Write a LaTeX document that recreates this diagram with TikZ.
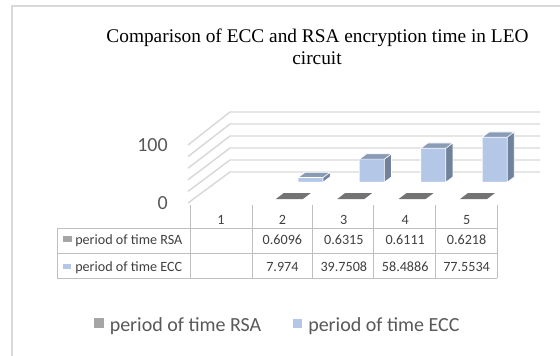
\documentclass[tikz,border=0pt]{standalone}
\usepackage{fontspec}
\setmainfont{Liberation Serif}
\newfontfamily\calib{Carlito}
\definecolor{framec}{HTML}{D9D9D9}
\definecolor{gridc}{HTML}{D9D9D9}
\definecolor{tablec}{HTML}{BFBFBF}
\definecolor{axistxt}{HTML}{595959}
\definecolor{tabtxt}{HTML}{404040}
\definecolor{eccfront}{HTML}{B4C7E7}
\definecolor{ecctop}{HTML}{8A9BB6}
\definecolor{eccside}{HTML}{71829C}
\definecolor{rsatop}{HTML}{737373}
\definecolor{rsaleg}{HTML}{A5A5A5}
\tikzset{
  gridline/.style={draw=gridc, line width=1.1pt},
  tabline/.style={draw=tablec, line width=0.75pt},
  axislabel/.style={font=\calib\fontsize{15}{18}\selectfont, text=axistxt, anchor=east, inner sep=0pt},
  tabtext/.style={font=\calib\fontsize{10.6}{12}\selectfont, text=tabtxt, inner sep=0pt},
  legtext/.style={font=\calib\fontsize{15}{18}\selectfont, text=axistxt, anchor=base west, inner sep=0pt},
  titletext/.style={font=\fontsize{14.5}{17}\selectfont, text=black, anchor=base, inner sep=0pt},
}
\begin{document}
\begin{tikzpicture}[x=0.75pt,y=-0.75pt]
\useasboundingbox (0,0) rectangle (560,356);
\fill[white] (0,0) rectangle (560,356);
% outer frame
\draw[framec, line width=1pt] (12,356) -- (12,6) -- (560,6);
% title
\node[titletext] (t1) at (317.5,43) {Comparison of ECC and RSA encryption time in LEO};
\node[titletext] (t2) at (317,65) {circuit};
% gridlines (side wall + back wall)
\foreach \k in {0,...,5}{
  \draw[gridline] (188,{203-11.6*\k}) -- (230,{172-12*\k}) -- (540,{172-12*\k});
}
% axis labels
\node[axislabel] (l100) at (168,145) {100};
\node[axislabel] (l0) at (168,203) {0};
% ECC bars
\foreach \i/\v in {2/7.974,3/39.7508,4/58.4886,5/77.5534}{
  \pgfmathsetmacro{\xc}{221+61.4*(\i-1)}
  \pgfmathsetmacro{\L}{\xc+28.1-12.5}
  \pgfmathsetmacro{\R}{\xc+28.1+12.5}
  \pgfmathsetmacro{\B}{182.2}
  \pgfmathsetmacro{\T}{182.2-0.58*\v}
  \fill[eccfront] (\L,\T) rectangle (\R,\B);
  \fill[ecctop] (\L,\T) -- (\R,\T) -- (\R+7.1,\T-5.3) -- (\L+7.1,\T-5.3) -- cycle;
  \fill[eccside] (\R,\T) -- (\R+7.1,\T-5.3) -- (\R+7.1,\B-5.3) -- (\R,\B) -- cycle;
  \draw[white, line width=0.5pt, line join=round] (\L,\B) -- (\L,\T) -- (\R,\T) -- (\R,\B) -- cycle
     (\L,\T) -- (\L+7.1,\T-5.3) -- (\R+7.1,\T-5.3) -- (\R,\T)
     (\R+7.1,\T-5.3) -- (\R+7.1,\B-5.3) -- (\R,\B);
}
% RSA bars (flat)
\foreach \i in {2,3,4,5}{
  \pgfmathsetmacro{\xc}{221+61.4*(\i-1)+1.5}
  \fill[rsatop] (\xc-13.5+5.5,199) -- (\xc+13.5+5.5,199) -- (\xc+13.5+13.4,193) -- (\xc-13.5+13.4,193) -- cycle;
}
% data table
\draw[tabline] (57,228) -- (497,228);
\draw[tabline] (57,253) -- (497,253);
\draw[tabline] (57,278) -- (497,278);
\draw[tabline] (57,228) -- (57,278);
\foreach \x in {190,252,312,373,435,497}{
  \draw[tabline] (\x,205) -- (\x,278);
}
\foreach \i in {1,...,5}{
  \node[tabtext, anchor=base] (h\i) at ({221+61.4*(\i-1)},224.5) {\i};
}
\fill[rsaleg] (63.3,235.7) rectangle (71.7,242.3);
\fill[eccfront] (63.3,263.5) rectangle (70.5,269.3);
\node[tabtext, anchor=base west] (rowrsa) at (75,244) {period of time RSA};
\node[tabtext, anchor=base west] (rowecc) at (75,271.5) {period of time ECC};
\foreach \i/\r/\e in {2/0.6096/7.974,3/0.6315/39.7508,4/0.6111/58.4886,5/0.6218/77.5534}{
  \node[tabtext, anchor=base] (r\i) at ({221+61.4*(\i-1)},244.5) {\r};
  \node[tabtext, anchor=base] (e\i) at ({221+61.4*(\i-1)},271.5) {\e};
}
% legend
\fill[rsaleg] (94,318) rectangle (103.5,328);
\node[legtext] (legrsa) at (109.5,331) {period of time RSA};
\fill[eccfront] (293,318.5) rectangle (302,327.5);
\node[legtext] (legecc) at (308,331) {period of time ECC};
\end{tikzpicture}
\end{document}
